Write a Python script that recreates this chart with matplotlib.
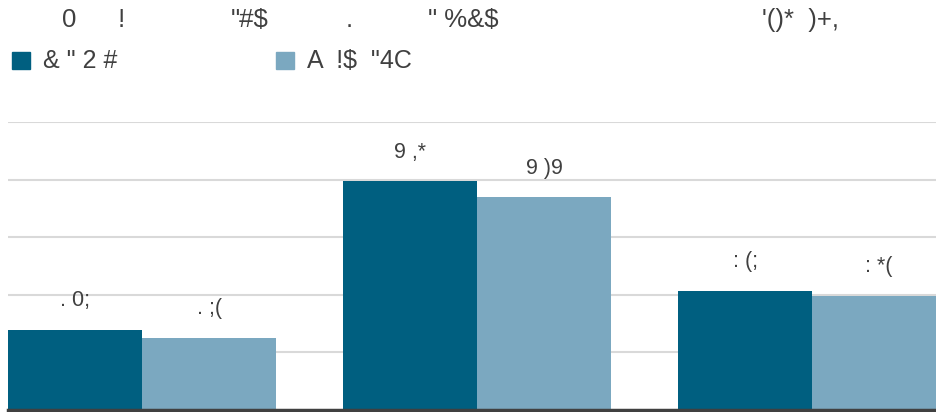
import matplotlib
matplotlib.use("Agg")
import matplotlib.pyplot as plt
import numpy as np

# chart data (text is kept exactly as it appears in the reference)
categories = ["A", "B", "C"]
series_names = ['& " 2 #', 'A  !$  "4C']
dark_values = [1.39, 3.97, 2.07]
light_values = [1.25, 3.69, 1.98]
dark_labels = [". 0;", "9 ,*", ": (;"]
light_labels = [". ;(", "9 )9", ": *("]
title_parts = ["0", "!", '"#$', ".", '" %&$', "'()*  )+,"]
title_x = [69, 121, 250, 349, 463, 801]

DARK = "#005f80"
LIGHT = "#7ba8c0"
TEXT = "#404040"

plt.rcParams['font.family'] = ['Liberation Sans', 'DejaVu Sans']

fig = plt.figure(figsize=(9.37, 4.12), dpi=100)
W, H = 937, 412
ax = fig.add_axes([8 / W, 2 / H, (W - 8) / W, (410 - 122) / H])

x = np.arange(len(categories))
width = 0.4
bars_dark = ax.bar(x - width / 2, dark_values, width, color=DARK, zorder=2)
bars_light = ax.bar(x + width / 2, light_values, width, color=LIGHT, zorder=2)

ax.set_xlim(-0.4, 2.373)
ax.set_ylim(0, 5)
ax.set_yticks([1, 2, 3, 4, 5])
ax.yaxis.grid(True, color="#d9d9d9", linewidth=1.5, zorder=0)
ax.set_axisbelow(True)
ax.tick_params(left=False, bottom=False, labelleft=False, labelbottom=False)
for side in ["top", "right", "left"]:
    ax.spines[side].set_visible(False)
ax.spines["bottom"].set_color("#404040")
ax.spines["bottom"].set_linewidth(2.5)

for bars, labels in [(bars_dark, dark_labels), (bars_light, light_labels)]:
    for b, lab in zip(bars, labels):
        ax.annotate(lab, (b.get_x() + b.get_width() / 2, b.get_height()),
                    xytext=(0, 21), textcoords="offset points",
                    ha="center", va="center", fontsize=15.5, color=TEXT,
                    annotation_clip=False)

# title pieces
for t, tx in zip(title_parts, title_x):
    fig.text(tx / W, 1 - 20 / H, t, ha="center", va="center",
             fontsize=18.5, color=TEXT)

# legend
leg_items = [(12, DARK, series_names[0]), (276, LIGHT, series_names[1])]
for lx, c, name in leg_items:
    fig.patches.append(plt.Rectangle((lx / W, 1 - 69 / H), 18 / W, 17 / H,
                                     transform=fig.transFigure, color=c))
    fig.text((lx + 31) / W, 1 - 61 / H, name, ha="left", va="center",
             fontsize=18, color=TEXT)

fig.savefig("out.png", dpi=100)
